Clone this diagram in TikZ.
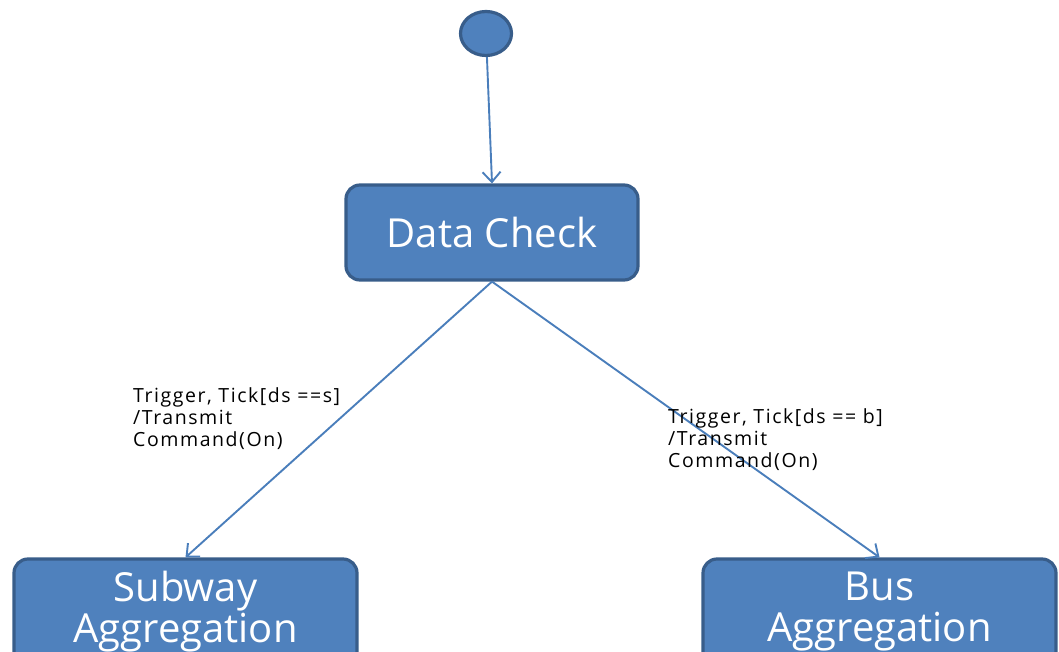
\documentclass[tikz,border=0pt]{standalone}
\usepackage{fontspec}
\setmainfont{Open Sans}
\newfontfamily\lblfont{Open Sans}[LetterSpace=8]
\usetikzlibrary{arrows.meta,shapes.geometric}
\definecolor{boxfill}{HTML}{4F81BD}
\definecolor{boxline}{HTML}{385D8A}
\definecolor{conncol}{HTML}{4A7EBB}
\begin{document}
\begin{tikzpicture}[x=1pt,y=-1pt,
  state/.style={draw=boxline, fill=boxfill, line width=3.2pt, rounded corners=14pt,
    text=white, align=center, inner sep=0pt},
  initial/.style={ellipse, draw=boxline, fill=boxfill, line width=3.2pt,
    minimum width=51pt, minimum height=44pt, inner sep=0pt},
  conn/.style={draw=conncol, line width=1.9pt, -{Straight Barb[length=10pt,width=18pt]}},
  lbl/.style={font=\lblfont\fontsize{19.5}{22}\selectfont, align=left, inner sep=0pt, anchor=north west}]
\useasboundingbox (0,0) rectangle (1059,652);
\clip (0,0) rectangle (1059,652);
\node[initial] (init) at (486,33.5) {};
\node[state, minimum width=292pt, minimum height=95pt, font=\fontsize{40}{48}\selectfont] (dc) at (492,232.5) {Data Check};
\node[state, minimum width=343pt, minimum height=106pt, font=\fontsize{40}{41}\selectfont] (sub) at (185.5,612) {Subway\\Aggregation};
\node[state, minimum width=353pt, minimum height=106pt, font=\fontsize{40}{41}\selectfont] (bus) at (879.5,612) {Bus\\Aggregation};
\draw[conn] (init) -- (dc.north);
\draw[conn] (dc.south) -- (sub.north);
\draw[conn] (dc.south) -- (bus.north);
\node[lbl] (l1) at (133,387) {Trigger, Tick[ds ==s]\\/Transmit\\Command(On)};
\node[lbl] (l2) at (668,408) {Trigger, Tick[ds == b]\\/Transmit\\Command(On)};
\end{tikzpicture}
\end{document}
